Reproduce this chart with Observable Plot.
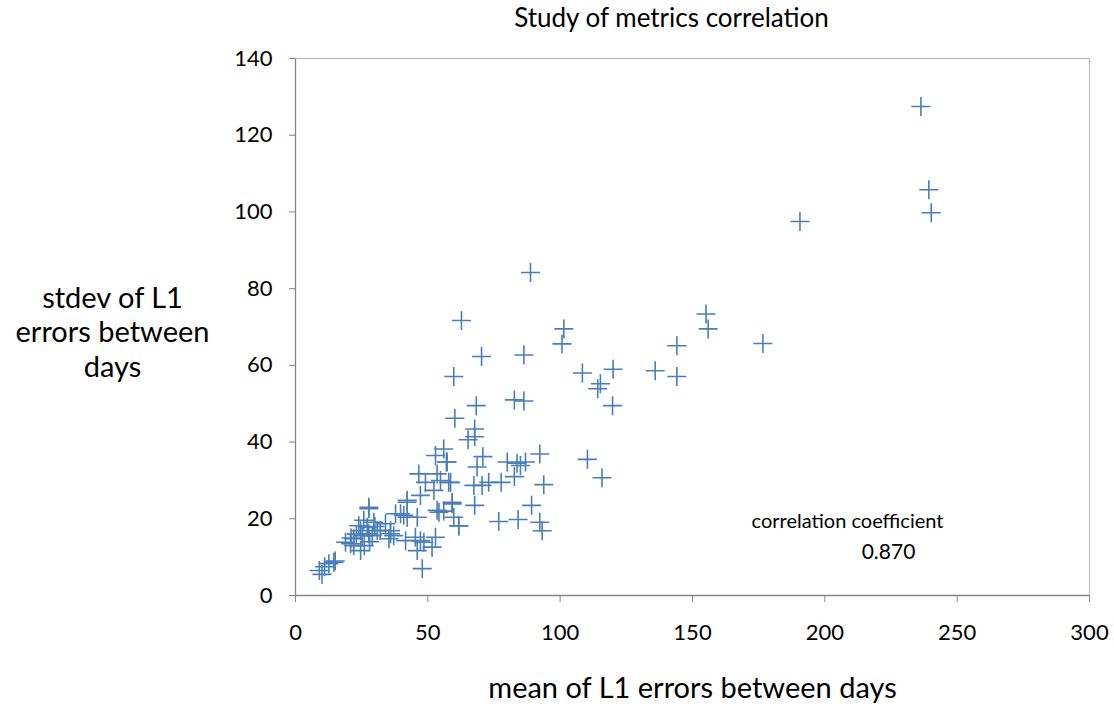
<!DOCTYPE html>
<html>
<head>
<meta charset="utf-8">
<script src="https://cdn.jsdelivr.net/npm/d3@7"></script>
<script src="https://cdn.jsdelivr.net/npm/@observablehq/plot@0.6"></script>
<style>
  html, body { margin: 0; padding: 0; background: #fff; }
  #chart svg { display: block; }
</style>
</head>
<body>
<div id="chart"></div>
<script>
// mean of L1 errors between days (x)
const meanL1 = [
  9, 10, 11, 12.6, 14.5, 15,
  18.9, 20.8, 22, 24.6, 23.9, 25.8, 27.7, 27.1, 27.7, 29, 25.2, 24.6, 22, 29.6, 30.9, 34, 35.9, 35.3, 39.7, 27.7, 21, 23, 26, 28, 30, 32,
  42.2, 46.6, 56, 52.9, 57, 49.1, 53.5, 54.8, 57.9, 52.3, 47.2, 42.2, 53.5, 54.2, 59.2, 37.8, 40.9, 42.2, 46, 59.8, 61.7, 35.9, 37.1, 41.6, 45.3, 47.2, 48.5, 52.9, 51.6, 46, 47.9,
  62.7, 101.4, 100.7, 70.3, 86.3, 59.8, 108.4, 115.2, 114.2, 120, 119.8, 82.7, 86.3, 68.3, 60.2, 67.7, 67.7, 65.2, 57.3, 70.8, 92.3, 68.6, 80, 83.7, 86.9, 85, 82.7, 110.3, 115.8, 58.6, 67.4, 70.5, 73, 77.7, 93.8, 59.2, 67.7, 89.2, 61.7, 76.8, 84.1, 92.3, 93.2, 56, 88.8,
  155.1, 155.9, 144.1, 176.6, 135.9, 144.1,
  236.3, 239.3, 240.2, 190.6
];
// stdev of L1 errors between days (y)
const stdevL1 = [
  6.5, 5.5, 7.5, 8.3, 8.7, 9,
  13.9, 13.5, 14.8, 16.9, 18.2, 19.6, 23, 17.8, 16.1, 15.6, 15.6, 11.7, 13, 19.1, 16.9, 18.7, 16.1, 14.8, 21.3, 22.6, 15, 16, 13, 14, 18, 17,
  24.8, 31.7, 38.2, 36.5, 34.8, 29.5, 31.7, 30, 29.5, 27.4, 26.1, 24.3, 22.2, 21.7, 23.9, 21.3, 20.9, 20.4, 20.4, 20.4, 18.2, 16.9, 15.6, 14.3, 15.2, 14.3, 13.9, 15.2, 12.6, 11.7, 7,
  71.7, 69.5, 65.6, 62.3, 62.7, 57.1, 58, 55.2, 53.9, 59, 49.5, 51, 50.7, 49.5, 46.2, 43.4, 41.4, 40.6, 34.8, 36.2, 36.9, 33.5, 34.8, 34.5, 34.8, 33.9, 31, 35.5, 30.7, 29.5, 28.7, 28.7, 29.5, 29.5, 28.9, 24.3, 23.5, 23.5, 18.1, 19.3, 19.8, 19.1, 16.9, 22, 84.2,
  73.4, 69.5, 65.1, 65.7, 58.6, 57.1,
  127.5, 105.8, 99.8, 97.5
];
const xTicks = [0, 50, 100, 150, 200, 250, 300];
const yTicks = [0, 20, 40, 60, 80, 100, 120, 140];
const titleText = "Study of metrics correlation";
const xLabel = "mean of L1 errors between days";
const yLabel = "stdev of L1\nerrors between\ndays";
const corrLabel = "correlation coefficient";
const corrValue = "0.870";

const points = meanL1.map((m, i) => ({mean: m, stdev: stdevL1[i]}));

const plusSymbol = {
  draw(ctx, size) {
    const r = Math.sqrt(size / Math.PI);
    ctx.moveTo(-r, 0); ctx.lineTo(r, 0);
    ctx.moveTo(0, -r); ctx.lineTo(0, r);
  }
};

const font = "Lato, 'Open Sans', sans-serif";
const axisGray = "#868686";

const chart = Plot.plot({
  width: 1114,
  height: 708,
  marginLeft: 295,
  marginRight: 25,
  marginTop: 58,
  marginBottom: 113,
  style: {fontFamily: font, background: "#fff", color: "#000"},
  x: {domain: [0, 300]},
  y: {domain: [0, 140]},
  marks: [
    Plot.frame({stroke: "#b8b8b8"}),
    Plot.ruleY([0], {stroke: axisGray, strokeWidth: 1.3}),
    Plot.ruleX([0], {stroke: axisGray, strokeWidth: 1.3}),
    Plot.axisX({ticks: xTicks, tickSize: 7, tickPadding: 22, stroke: axisGray, fontSize: 22, label: null, tickFormat: d => String(d), color: "#000"}),
    Plot.axisY({ticks: yTicks, tickSize: 6, tickPadding: 17, stroke: axisGray, fontSize: 22, label: null, tickFormat: d => String(d), color: "#000"}),
    Plot.dot(points, {x: "mean", y: "stdev", symbol: plusSymbol, r: 9.5, stroke: "#4a7ebb", strokeWidth: 1.6, fill: "none"}),
    Plot.text([titleText], {frameAnchor: "top", dx: -21, dy: -40, fontSize: 26, lineAnchor: "middle", fill: "#000"}),
    Plot.text([xLabel], {frameAnchor: "bottom", dy: 93, fontSize: 29, lineAnchor: "middle", fill: "#000"}),
    Plot.text([yLabel], {frameAnchor: "left", dx: -183, dy: 4, fontSize: 29, lineHeight: 1.19, lineAnchor: "middle", textAnchor: "middle", fill: "#000"}),
    Plot.text([corrLabel], {frameAnchor: "bottom-right", dx: -242, dy: -74, fontSize: 20, lineAnchor: "middle", textAnchor: "middle", fill: "#000"}),
    Plot.text([corrValue], {frameAnchor: "bottom-right", dx: -201, dy: -43, fontSize: 21, lineAnchor: "middle", textAnchor: "middle", fill: "#000"})
  ]
});
document.getElementById("chart").appendChild(chart);
</script>
</body>
</html>
